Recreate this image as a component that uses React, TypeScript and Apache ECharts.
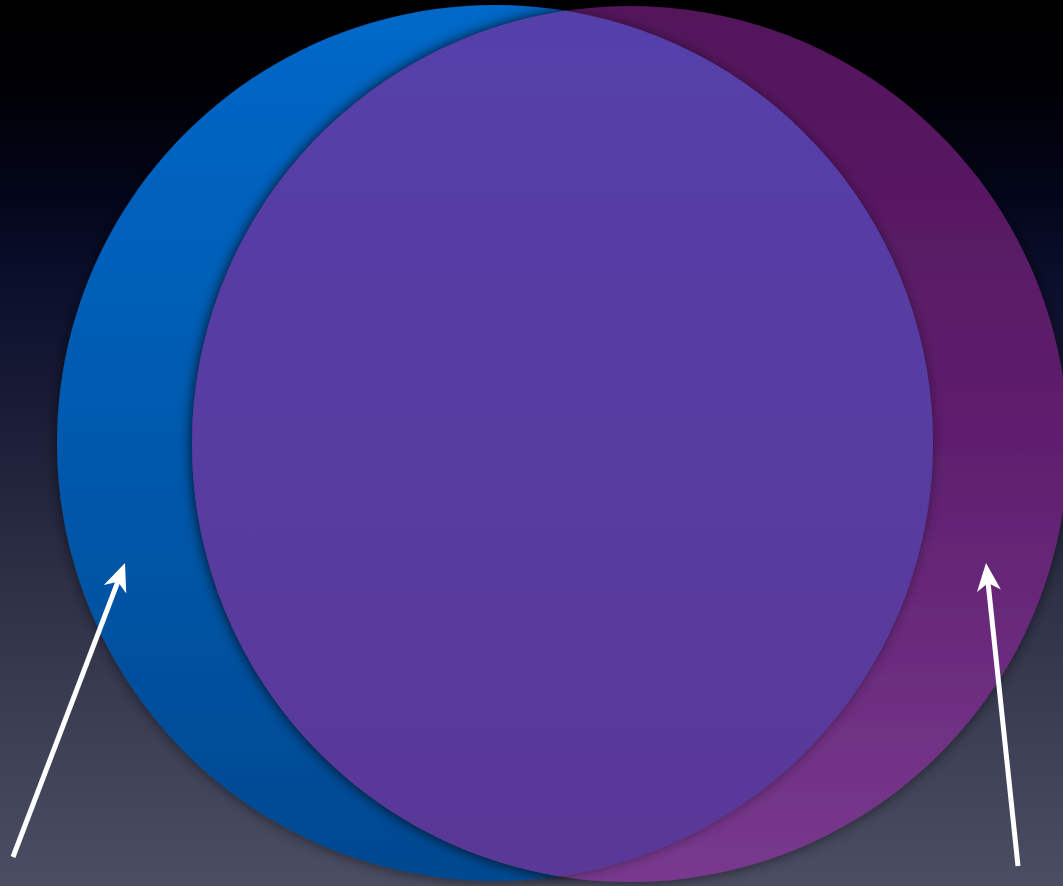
import React, { useEffect, useRef } from 'react';
import * as echarts from 'echarts';

// Two overlapping sets (Venn diagram), in pixel-like data units of the plot
const setNames = ['Left set', 'Right set'];
const setCenterX = [495, 630];
const setCenterY = [443, 444];
const setRadius = [438, 438];
const setColorStops = [
  ['#0068c8', '#0359ad', '#064890'],
  ['#52145a', '#5f1f6e', '#78398e'],
];
const overlapColors = ['#5540aa', '#5a3897'];

// Pointer arrows
const arrowTailX = [13, 1018];
const arrowTailY = [857, 866];
const arrowTipX = [125, 986];
const arrowTipY = [563, 563];

const W = 1063;
const H = 886;

export default function App() {
  const ref = useRef<HTMLDivElement>(null);

  useEffect(() => {
    if (!ref.current) return;
    const chart = echarts.init(ref.current, undefined, { renderer: 'svg' });

    const circleData = setNames.map((n, i) => ({
      name: n,
      value: [setCenterX[i], setCenterY[i], setRadius[i], i],
    }));
    const arrowData = arrowTailX.map((_, i) => [arrowTailX[i], arrowTailY[i], arrowTipX[i], arrowTipY[i]]);

    const grad = (stops: string[]) => ({
      type: 'linear',
      x: 0,
      y: 0,
      x2: 0,
      y2: 1,
      colorStops: stops.map((c, k) => ({ offset: k / (stops.length - 1), color: c })),
    });

    chart.setOption({
      animation: false,
      backgroundColor: 'transparent',
      grid: { left: 0, right: 0, top: 0, bottom: 0 },
      xAxis: { type: 'value', min: 0, max: W, show: false },
      yAxis: { type: 'value', min: 0, max: H, inverse: true, show: false },
      series: [
        {
          type: 'custom',
          name: 'sets',
          clip: false,
          data: circleData,
          renderItem: (params: any, api: any) => {
            const c = api.coord([api.value(0), api.value(1)]);
            const r = api.size([api.value(2), 0])[0];
            const i = api.value(3);
            return {
              type: 'circle',
              shape: { cx: c[0], cy: c[1], r },
              style: {
                fill: grad(setColorStops[i]),
                shadowBlur: 14,
                shadowColor: 'rgba(0,0,0,0.55)',
              },
            };
          },
          z: 1,
        },
        {
          type: 'custom',
          name: 'overlap',
          clip: false,
          data: [[0]],
          renderItem: (params: any, api: any) => {
            const c1 = api.coord([setCenterX[0], setCenterY[0]]);
            const c2 = api.coord([setCenterX[1], setCenterY[1]]);
            const r1 = api.size([setRadius[0], 0])[0];
            const r2 = api.size([setRadius[1], 0])[0];
            const dx = c2[0] - c1[0];
            const dy = c2[1] - c1[1];
            const d = Math.sqrt(dx * dx + dy * dy);
            const a = (r1 * r1 - r2 * r2 + d * d) / (2 * d);
            const h = Math.sqrt(Math.max(r1 * r1 - a * a, 0));
            const mx = c1[0] + (a * dx) / d;
            const my = c1[1] + (a * dy) / d;
            const px = (-dy / d) * h;
            const py = (dx / d) * h;
            const t = py < 0 ? [mx + px, my + py] : [mx - px, my - py];
            const b = py < 0 ? [mx - px, my - py] : [mx + px, my + py];
            const pathData =
              `M${t[0]},${t[1]} A${r2},${r2} 0 0 0 ${b[0]},${b[1]} ` +
              `A${r1},${r1} 0 0 0 ${t[0]},${t[1]} Z`;
            return {
              type: 'path',
              shape: { pathData },
              style: {
                fill: grad(overlapColors),
                shadowBlur: 12,
                shadowColor: 'rgba(0,0,0,0.4)',
              },
            };
          },
          z: 2,
        },
        {
          type: 'custom',
          name: 'arrows',
          clip: false,
          data: arrowData,
          renderItem: (params: any, api: any) => {
            const s = api.coord([api.value(0), api.value(1)]);
            const e = api.coord([api.value(2), api.value(3)]);
            const vx = e[0] - s[0];
            const vy = e[1] - s[1];
            const len = Math.sqrt(vx * vx + vy * vy);
            const ux = vx / len;
            const uy = vy / len;
            const nx = -uy;
            const ny = ux;
            const headLen = 28;
            const halfW = 12;
            const notch = 20;
            const base = [e[0] - ux * headLen, e[1] - uy * headLen];
            const notchP = [e[0] - ux * notch, e[1] - uy * notch];
            return {
              type: 'group',
              children: [
                {
                  type: 'line',
                  shape: { x1: s[0], y1: s[1], x2: notchP[0], y2: notchP[1] },
                  style: { stroke: '#ffffff', lineWidth: 5 },
                },
                {
                  type: 'polygon',
                  shape: {
                    points: [
                      e,
                      [base[0] + nx * halfW, base[1] + ny * halfW],
                      notchP,
                      [base[0] - nx * halfW, base[1] - ny * halfW],
                    ],
                  },
                  style: { fill: '#ffffff' },
                },
              ],
            };
          },
          z: 3,
        },
      ],
    });

    return () => chart.dispose();
  }, []);

  return (
    <div
      ref={ref}
      style={{
        position: 'fixed',
        left: 0,
        top: 0,
        width: W,
        height: H,
        background:
          'linear-gradient(to bottom, #000000 0%, #000005 10%, #03061a 22%, #0b0f2c 32%, #1a1c36 46%, #2d2f45 65%, #3d3f54 83%, #4b4d62 100%)',
      }}
    />
  );
}
